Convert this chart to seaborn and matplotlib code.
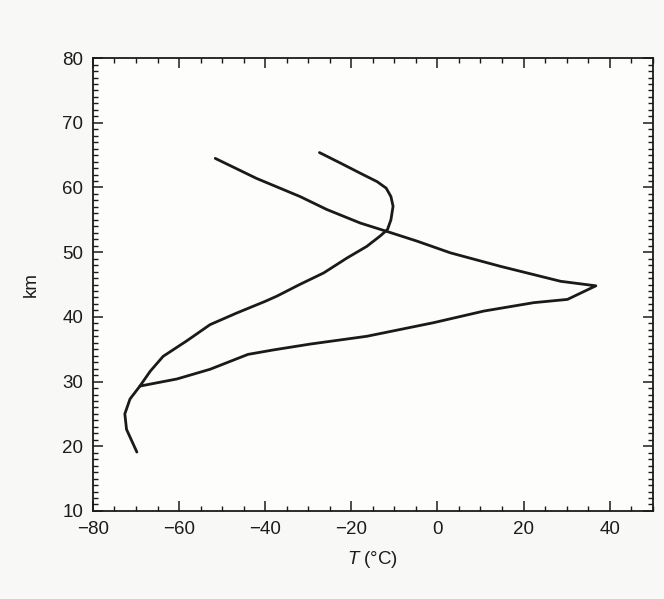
import matplotlib
matplotlib.use("Agg")
import matplotlib.pyplot as plt
from matplotlib.ticker import MultipleLocator
import seaborn as sns
import pandas as pd

# Temperature profile A: full sounding from 19 km up to 65 km
profile_a_temp = [-27.4, -22.6, -17.9, -14.0, -11.9, -10.8, -10.3, -10.8, -11.6,
                  -13.3, -16.4, -21.0, -26.4, -32.0, -37.3, -40.0, -46.6, -52.8,
                  -58.2, -63.7, -66.7, -69.1, -71.4, -72.6, -72.2, -69.8]
profile_a_alt = [65.4, 63.8, 62.2, 60.9, 59.9, 58.6, 57.1, 55.0, 53.5,
                 52.5, 50.9, 49.1, 46.8, 45.0, 43.2, 42.4, 40.6, 38.8,
                 36.3, 33.9, 31.6, 29.3, 27.3, 25.0, 22.6, 19.1]

# Temperature profile B: warm stratopause near 45 km
profile_b_temp = [-51.6, -42.0, -31.9, -25.7, -17.9, -11.7, -4.7, 3.0, 14.7, 28.6,
                  36.8, 30.2, 22.4, 10.8, -0.9, -16.4, -29.5, -38.0, -44.0, -52.8,
                  -60.5, -69.1]
profile_b_alt = [64.5, 61.4, 58.6, 56.6, 54.5, 53.2, 51.7, 49.9, 47.8, 45.5,
                 44.8, 42.7, 42.2, 40.9, 39.1, 37.0, 35.8, 34.9, 34.2, 31.9,
                 30.4, 29.3]

x_ticks = [-80, -60, -40, -20, 0, 20, 40]
y_ticks = [10, 20, 30, 40, 50, 60, 70, 80]

sns.set_theme(style="white")
plt.rcParams["font.family"] = ["Liberation Sans", "DejaVu Sans"]
plt.rcParams["mathtext.fontset"] = "custom"
plt.rcParams["mathtext.rm"] = "Liberation Sans"
plt.rcParams["mathtext.it"] = "Liberation Sans:italic"

fig = plt.figure(figsize=(6.64, 5.99), dpi=100, facecolor="#f8f8f6")
ax = fig.add_axes([0.140, 0.147, 0.843, 0.756])
ax.set_facecolor("#fdfdfc")

ink = "#1a1a1a"
df_a = pd.DataFrame({"T": profile_a_temp, "z": profile_a_alt})
df_b = pd.DataFrame({"T": profile_b_temp, "z": profile_b_alt})
sns.lineplot(data=df_a, x="T", y="z", sort=False, estimator=None,
             color=ink, linewidth=2.0, ax=ax)
sns.lineplot(data=df_b, x="T", y="z", sort=False, estimator=None,
             color=ink, linewidth=2.0, ax=ax)
for line in ax.get_lines():
    line.set_solid_joinstyle("round")
    line.set_solid_capstyle("round")

ax.set_xlim(-80, 50)
ax.set_ylim(10, 80)
ax.set_xticks(x_ticks)
ax.set_yticks(y_ticks)
ax.xaxis.set_minor_locator(MultipleLocator(5))
ax.yaxis.set_minor_locator(MultipleLocator(1))

for side in ["left", "right", "top", "bottom"]:
    ax.spines[side].set_visible(True)
    ax.spines[side].set_color(ink)
    ax.spines[side].set_linewidth(1.3)

ax.tick_params(which="both", direction="in", top=True, right=True,
               bottom=True, left=True, color=ink)
ax.tick_params(which="major", length=7, width=1.1, labelsize=13.5, pad=7,
               labelcolor="#1c1c1c")
ax.tick_params(which="minor", length=3.5, width=1.0)

ax.set_xlabel(r"$\mathit{T}$ (°C)", fontsize=13.5, color="#1c1c1c", labelpad=8)
ax.set_ylabel("km", fontsize=13.5, color="#1c1c1c", labelpad=16)

fig.savefig("out.png", dpi=100, facecolor=fig.get_facecolor())
